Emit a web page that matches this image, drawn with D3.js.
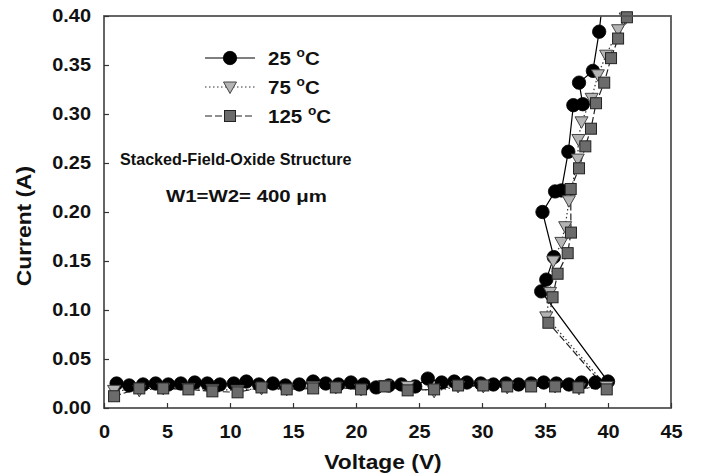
<!DOCTYPE html>
<html><head><meta charset="utf-8">
<script src="https://cdn.jsdelivr.net/npm/d3@7"></script>
<style>
body{margin:0;background:#fff;}
text{font-family:"Liberation Sans",Arial,sans-serif;font-weight:bold;fill:#111;}
</style></head>
<body><svg id="c" width="702" height="476"></svg>
<script>
// ---- data ----
const xTicks = [0,5,10,15,20,25,30,35,40,45];
const yTicks = [0,0.05,0.10,0.15,0.20,0.25,0.30,0.35,0.40];
const seriesNames = ["25 °C","75 °C","125 °C"];

const v25 = [1.0,2.0,3.1,4.1,5.1,6.1,7.2,8.2,9.2,10.3,11.3,12.3,13.4,14.4,15.5,16.6,17.6,18.6,19.6,20.6,21.6,22.6,23.6,24.7,25.7,26.8,27.8,28.8,29.9,30.9,31.9,32.9,33.9,34.9,35.9,36.9,37.9,39.0,40.0,
  34.7,35.1,35.7,34.8,35.8,36.3,36.85,37.25,38.0,37.7,38.8,39.3,39.7];
const i25 = [0.025,0.023,0.024,0.025,0.024,0.025,0.026,0.025,0.024,0.025,0.027,0.024,0.025,0.023,0.024,0.027,0.025,0.024,0.026,0.024,0.021,0.023,0.024,0.022,0.030,0.026,0.027,0.026,0.025,0.024,0.025,0.024,0.025,0.026,0.025,0.024,0.026,0.026,0.027,
  0.119,0.131,0.154,0.200,0.221,0.222,0.2615,0.309,0.310,0.332,0.344,0.384,0.430];

const v75 = [0.8,2.8,4.7,6.7,8.6,10.6,12.5,14.5,16.6,18.4,20.4,22.3,24.1,26.2,28.1,30.1,32.0,33.9,35.8,37.7,39.9,
  35.1,35.4,35.66,36.3,36.6,36.9,37.6,37.65,37.9,38.7,39.2,39.85,40.8,41.4];
const i75 = [0.018,0.018,0.020,0.020,0.019,0.018,0.020,0.019,0.022,0.021,0.019,0.023,0.022,0.017,0.022,0.022,0.021,0.023,0.022,0.020,0.022,
  0.093,0.118,0.150,0.169,0.185,0.2115,0.254,0.274,0.292,0.316,0.340,0.360,0.386,0.398];

const v125 = [0.8,2.8,4.7,6.7,8.6,10.6,12.5,14.5,16.6,18.4,20.4,22.3,24.1,26.2,28.1,30.1,32.0,33.9,35.8,37.65,39.9,
  35.27,35.6,36.0,36.8,37.06,37.04,37.7,38.2,38.65,39.05,39.7,40.24,40.8,41.5];
const i125 = [0.012,0.020,0.020,0.019,0.017,0.016,0.021,0.019,0.020,0.021,0.019,0.022,0.018,0.019,0.023,0.023,0.022,0.022,0.022,0.021,0.019,
  0.087,0.113,0.137,0.158,0.179,0.2235,0.2446,0.267,0.285,0.311,0.332,0.357,0.377,0.3987];

// ---- layout ----
const svg = d3.select("#c");
const L=104,R=671,T=16,B=408;
const x = d3.scaleLinear().domain([0,45]).range([L,R]);
const y = d3.scaleLinear().domain([0,0.40]).range([B,T]);
const SX = 1.14;

const defs = svg.append("defs");
defs.append("clipPath").attr("id","plot").append("rect").attr("x",L).attr("y",T).attr("width",R-L).attr("height",B-T);
defs.append("clipPath").attr("id","mk").append("rect").attr("x",L-10).attr("y",T-8).attr("width",R-L+20).attr("height",B-T+18);

function mk(v,i){return v.map((d,k)=>({v:d,i:i[k]}));}
const series = [
  {name:seriesNames[0], data:mk(v25,i25), dash:null, lc:"#000", sym:"circle"},
  {name:seriesNames[1], data:mk(v75,i75), dash:"1.5,2.5", lc:"#333", sym:"tri"},
  {name:seriesNames[2], data:mk(v125,i125), dash:"7,3", lc:"#222", sym:"sq"}
];

function drawSym(g,sym,cx,cy){
  if(sym==="circle") g.append("circle").attr("cx",cx).attr("cy",cy).attr("r",6.7).attr("fill","#000").attr("stroke","#000").attr("stroke-width",0.8);
  else if(sym==="tri") g.append("path").attr("d",`M${cx-6.5},${cy-5} L${cx+6.5},${cy-5} L${cx},${cy+6.5} Z`).attr("fill","#b4b4b4").attr("stroke","#444").attr("stroke-width",1);
  else g.append("rect").attr("x",cx-5.5).attr("y",cy-5.5).attr("width",11).attr("height",11).attr("fill","#6b6b6b").attr("stroke","#222").attr("stroke-width",1);
}

const line = d3.line().x(d=>x(d.v)).y(d=>y(d.i));
series.forEach(s=>{
  svg.append("path").attr("clip-path","url(#plot)").attr("d",line(s.data)).attr("fill","none")
    .attr("stroke",s.lc).attr("stroke-width",1.2).attr("stroke-dasharray",s.dash);
});
series.forEach(s=>{
  const g = svg.append("g").attr("clip-path","url(#mk)");
  s.data.forEach(d=>drawSym(g,s.sym,x(d.v),y(d.i)));
});

// frame
svg.append("rect").attr("x",L).attr("y",T).attr("width",R-L).attr("height",B-T).attr("fill","none").attr("stroke","#555").attr("stroke-width",1.8);

// axes
const xa = svg.append("g").attr("transform",`translate(0,${B})`)
  .call(d3.axisBottom(x).tickValues(xTicks).tickSizeInner(-5).tickSizeOuter(0).tickPadding(18).tickFormat(d3.format("d")));
const ya = svg.append("g").attr("transform",`translate(${L},0)`)
  .call(d3.axisLeft(y).tickValues(yTicks).tickSizeInner(-5).tickSizeOuter(0).tickPadding(13).tickFormat(d3.format(".2f")));
[xa,ya].forEach(a=>{
  a.select(".domain").remove();
  a.selectAll(".tick line").attr("stroke","#333").attr("stroke-width",1.2);
  a.selectAll(".tick text").attr("font-size",17.5).attr("font-family","Liberation Sans, Arial, sans-serif").attr("font-weight","bold").attr("fill","#111");
});
xa.selectAll(".tick text").attr("transform",`scale(${SX},1)`);
ya.selectAll(".tick text").each(function(){const t=d3.select(this);t.attr("x",+t.attr("x")/SX);}).attr("transform",`scale(${SX},1)`);

function txt(xp,yp,size,anchor,rot,sx){
  return svg.append("text").attr("transform",`translate(${xp},${yp}) rotate(${rot||0}) scale(${sx||SX},1)`)
    .attr("font-size",size).attr("text-anchor",anchor||"start");
}
txt(383,469,20,"middle").text("Voltage (V)");
txt(31,226,20,"middle",-90).text("Current (A)");

// legend
const legY=[58,87,116];
series.forEach((s,k)=>{
  svg.append("line").attr("x1",205).attr("x2",255).attr("y1",legY[k]).attr("y2",legY[k])
    .attr("stroke",s.lc).attr("stroke-width",1.2).attr("stroke-dasharray",s.dash);
  drawSym(svg,s.sym,230,legY[k]);
  const parts = s.name.split("°");
  const t = txt(268,legY[k]+7,18,"start");
  t.append("tspan").text(parts[0]);
  t.append("tspan").attr("font-size",12).attr("dy",-8).text("o");
  t.append("tspan").attr("dy",8).text(parts[1]);
});

txt(120,165,17,"start",0,0.95).text("Stacked-Field-Oxide Structure");
txt(166,202,17,"start",0,1.2).text("W1=W2= 400 μm");
</script></body></html>
